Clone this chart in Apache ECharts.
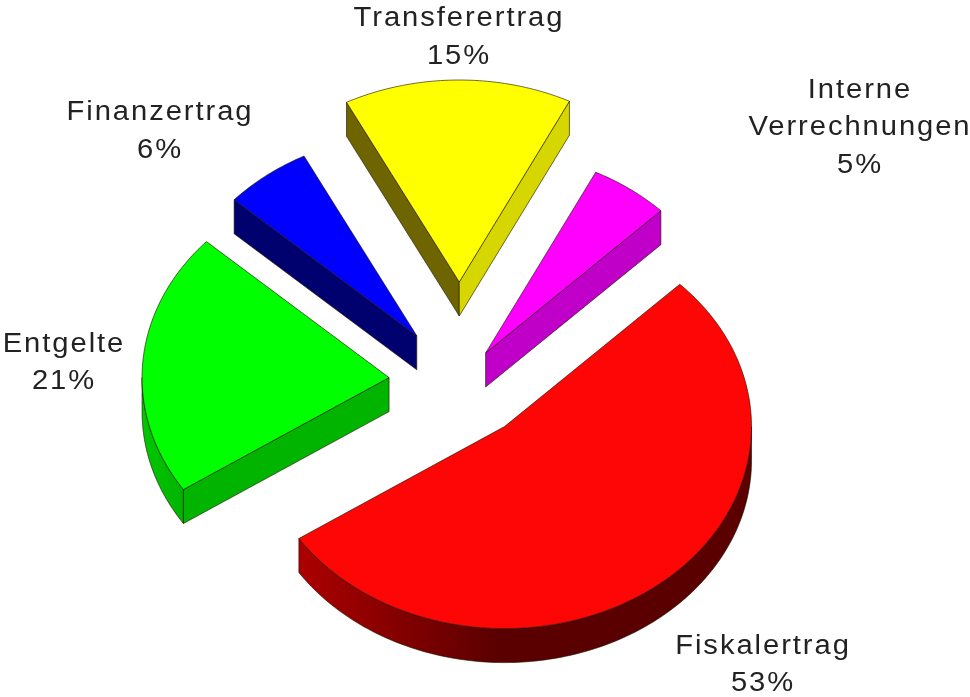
<!DOCTYPE html>
<html>
<head>
<meta charset="utf-8">
<style>html,body{margin:0;padding:0;background:#fff}#c{width:970px;height:697px}</style>
<script src="https://cdn.jsdelivr.net/npm/echarts@6/dist/echarts.min.js"></script>
</head>
<body>
<div id="c"></div>
<script>
// Data, clockwise from the start angle
const categories = ['Fiskalertrag', 'Entgelte', 'Finanzertrag', 'Transferertrag', 'Interne\nVerrechnungen'];
const values = [53.1, 21.1, 5.7, 14.9, 5.2];

// Layout and style
const topColors = ['#ff0606', '#00ff00', '#0000ff', '#ffff00', '#ff00ff'];
const firstWall = [null, '#00b400', '#00006e', '#6e6400', null];
const lastWall = [null, null, null, '#d6d600', '#c000c8'];
const rimWall = [
  {x: 299, x2: 500, stops: ['#ac0000', '#5a0000']},
  {x: 142, x2: 182, stops: ['#00c800', '#00b400']},
  null, null, null
];
const explode = [0.285, 0.288, 0.288, 0.495, 0.177];
const labelX = [763, 64, 160, 459, 860];
const labelY = [664, 362, 130.5, 36.5, 127];
const CX = 460, CY = 382, RX = 247, RY = 202, DEPTH = 34, START = 44.8;
const FONT = '27px "Liberation Sans", Arial, sans-serif';
const STROKE = 'rgba(30,20,0,0.62)';
const TRACKING = '1.8px';

// The reference sets its labels with open tracking
const plainFillText = CanvasRenderingContext2D.prototype.fillText;
CanvasRenderingContext2D.prototype.fillText = function (...args) {
  this.letterSpacing = TRACKING;
  return plainFillText.apply(this, args);
};

const total = values.reduce((a, b) => a + b, 0);
const rad = d => d * Math.PI / 180;

function renderSlice(params, api) {
  const i = params.dataIndex;
  const value = api.value(0);
  let before = 0;
  for (let k = 0; k < i; k++) before += values[k];
  const a1 = START - before / total * 360;
  const a2 = a1 - value / total * 360;
  const mid = (a1 + a2) / 2;
  const ax = CX + Math.cos(rad(mid)) * explode[i] * RX;
  const ay = CY - Math.sin(rad(mid)) * explode[i] * RY;
  const rim = t => [ax + Math.cos(rad(t)) * RX, ay - Math.sin(rad(t)) * RY];
  const down = p => [p[0], p[1] + DEPTH];
  const arc = (from, to) => {
    const n = Math.max(2, Math.ceil(Math.abs(from - to)));
    const pts = [];
    for (let k = 0; k <= n; k++) pts.push(rim(from + (to - from) * k / n));
    return pts;
  };
  const poly = (points, fill) => ({
    type: 'polygon',
    shape: {points},
    style: {fill, stroke: STROKE, lineWidth: 1, lineJoin: 'round'}
  });
  const children = [];
  // Visible outer wall: only the part of the rim that faces the viewer
  if (rimWall[i]) {
    const from = Math.min(a1, 0);
    const to = a2 < -180 ? -180 : a2;
    const top = arc(from, to);
    const w = rimWall[i];
    children.push(poly(top.concat(top.map(down).reverse()), {
      type: 'linear', x: w.x, y: 0, x2: w.x2, y2: 0, global: true,
      colorStops: [{offset: 0, color: w.stops[0]}, {offset: 1, color: w.stops[1]}]
    }));
  }
  const apex = [ax, ay];
  if (firstWall[i]) {
    const p = rim(a1);
    children.push(poly([apex, p, down(p), down(apex)], firstWall[i]));
  }
  if (lastWall[i]) {
    const p = rim(a2);
    children.push(poly([apex, p, down(p), down(apex)], lastWall[i]));
  }
  children.push(poly([apex].concat(arc(a1, a2)), topColors[i]));
  children.push({
    type: 'text',
    x: labelX[i],
    y: labelY[i] + 1,
    scaleX: 1.08,
    z2: 10,
    style: {
      text: categories[i] + '\n' + Math.round(value) + '%',
      font: FONT,
      fill: '#222222',
      textAlign: 'center',
      textVerticalAlign: 'middle',
      lineHeight: 37.5
    }
  });
  return {type: 'group', children};
}

const chart = echarts.init(document.getElementById('c'), null, {renderer: 'canvas'});
chart.setOption({
  animation: false,
  backgroundColor: '#ffffff',
  series: [{
    type: 'custom',
    coordinateSystem: 'none',
    renderItem: renderSlice,
    data: values.map(v => [v]),
    silent: true
  }]
});
</script>
</body>
</html>
